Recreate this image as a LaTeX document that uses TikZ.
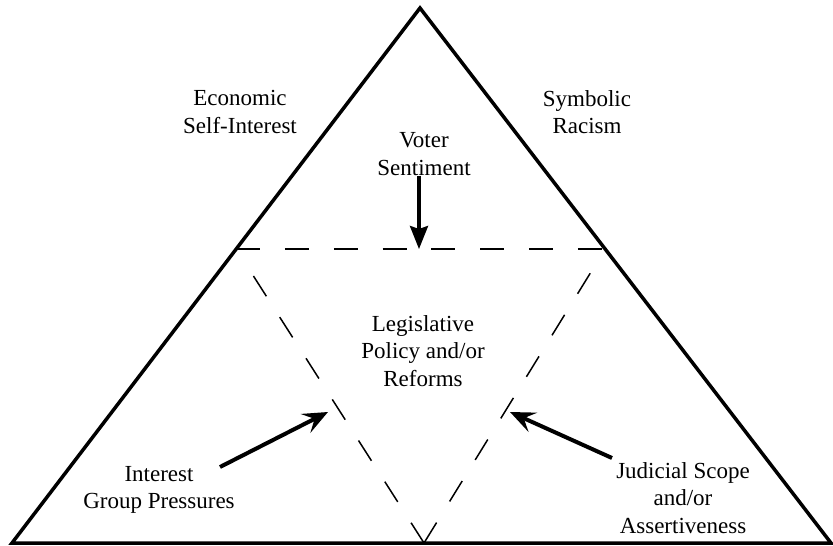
\documentclass[tikz,border=0pt]{standalone}
\usepackage{fontspec}
\setmainfont{Liberation Serif}
\usetikzlibrary{arrows.meta, calc}

\begin{document}
\begin{tikzpicture}[x=1pt, y=-1pt,
  force text/.style={align=center, font=\fontsize{23}{27.5}\selectfont, inner sep=0pt},
  dash line/.style={line width=1.5pt, dash pattern=on 24pt off 24.8pt},
  push arrow/.style={line width=4pt, -{Stealth[length=25pt, width=21pt, inset=10pt]}},
  drop arrow/.style={line width=3.5pt, -{Stealth[length=23pt, width=18pt, inset=3pt]}}]
  \useasboundingbox (0,0) rectangle (833,546);

  % Outer triangle
  \coordinate (apex) at (420,8);
  \coordinate (left) at (12,543);
  \coordinate (right) at (831,543);
  \draw[line width=3.5pt, line join=miter] (left) -- (apex) -- (right) -- cycle;

  % Inner triangle (upside down, dashed)
  \coordinate (tl) at ($(left)!0.5495!(apex)$);
  \coordinate (tr) at ($(right)!0.5495!(apex)$);
  \coordinate (bot) at (424,543);
  \draw[dash line] (tl) -- (tr);
  \draw[dash line] (bot) -- ($(tl)!9pt!(bot)$);
  \draw[dash line] (bot) -- ($(tr)!9pt!(bot)$);

  % Labels
  \node[force text] (econ) at (240,112) {Economic\\Self-Interest};
  \node[force text] (symb) at (587,112) {Symbolic\\Racism};
  \node[force text] (voter) at (424,154) {Voter\\Sentiment};
  \node[force text] (legis) at (423,351) {Legislative\\Policy and/or\\Reforms};
  \node[force text] (group) at (159,490) {Interest\\Group Pressures};
  \node[force text] (judic) at (683,498) {Judicial Scope\\and/or\\Assertiveness};

  % Arrows
  \coordinate (vtip) at (419,249);
  \draw[drop arrow] (voter.south -| vtip) -- (vtip);

  \coordinate (gtail) at (220,467);
  \coordinate (gtip) at (328,412);
  \draw[push arrow] (gtail) -- (gtip);

  \coordinate (jtail) at (612,458);
  \coordinate (jtip) at (510,412);
  \draw[push arrow] (jtail) -- (jtip);
\end{tikzpicture}
\end{document}
